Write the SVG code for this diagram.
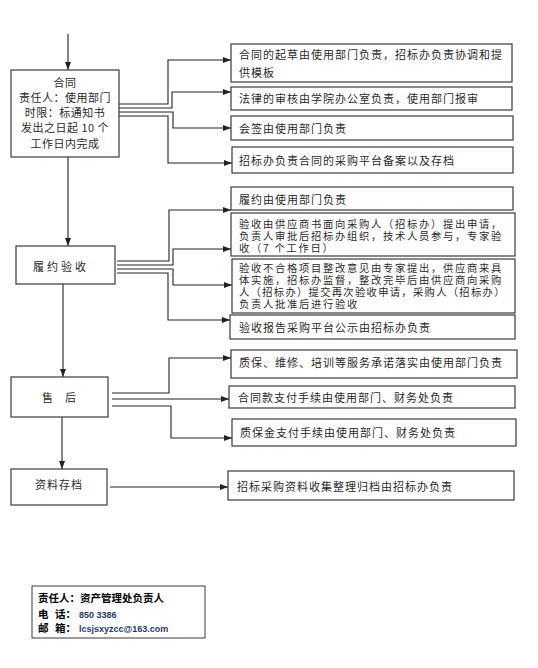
<svg xmlns="http://www.w3.org/2000/svg" width="538" height="668" viewBox="0 0 538 668">
<style>
.bg{fill:#ffffff}
.box{fill:#ffffff;stroke:#3a3a3a;stroke-width:1.2}
.t{font-family:"Noto Sans CJK SC","Noto Sans CJK JP",sans-serif;font-size:11px;fill:#2a2a2a;letter-spacing:1px}
.ts{font-family:"Noto Sans CJK SC","Noto Sans CJK JP",sans-serif;font-size:10.3px;fill:#2a2a2a;letter-spacing:1.7px}
.tl{font-family:"Noto Sans CJK SC","Noto Sans CJK JP",sans-serif;font-size:11px;fill:#2a2a2a;letter-spacing:0.5px}
.c{fill:none;stroke:#222222;stroke-width:1.1}
.f{font-family:"Noto Sans CJK SC","Noto Sans CJK JP",sans-serif;font-size:10.5px;font-weight:bold;fill:#000000}
.fl{font-family:"Liberation Sans",Arial,sans-serif;font-size:9px;font-weight:bold;fill:#1f3a6e}
</style>
<defs>
<marker id="ah" markerUnits="userSpaceOnUse" markerWidth="8" markerHeight="6" refX="8" refY="3" orient="auto">
<path d="M0,0 L8,3 L0,6 z" fill="#222222"/>
</marker>
</defs>
<rect class="bg" x="0" y="0" width="538" height="668"/>

<g id="connectors">
<path class="c" d="M68,34 V70" marker-end="url(#ah)"/>
<path class="c" d="M68,157 V246" marker-end="url(#ah)"/>
<path class="c" d="M63,284 V377" marker-end="url(#ah)"/>
<path class="c" d="M62,417 V469" marker-end="url(#ah)"/>

<path class="c" d="M116,104 H168 V60 H231" marker-end="url(#ah)"/>
<path class="c" d="M116,108 H172 V92 H231" marker-end="url(#ah)"/>
<path class="c" d="M116,112 H173 V128 H231" marker-end="url(#ah)"/>
<path class="c" d="M116,116 H168 V163 H232" marker-end="url(#ah)"/>

<path class="c" d="M117,261 H169 V210 H231" marker-end="url(#ah)"/>
<path class="c" d="M117,265 H173 V249 H231" marker-end="url(#ah)"/>
<path class="c" d="M117,269 H173 V285 H232" marker-end="url(#ah)"/>
<path class="c" d="M117,273 H168 V320 H230" marker-end="url(#ah)"/>

<path class="c" d="M112,393 H169 V358 H231" marker-end="url(#ah)"/>
<path class="c" d="M112,399 H229" marker-end="url(#ah)"/>
<path class="c" d="M112,406 H171 V438 H232" marker-end="url(#ah)"/>

<path class="c" d="M110,487 H228" marker-end="url(#ah)"/>
</g>

<g id="n-hetong">
<rect class="box" x="11" y="70" width="108" height="87"/>
<text class="tl" x="65" y="87" text-anchor="middle">合同</text>
<text class="tl" x="65" y="102" text-anchor="middle">责任人：使用部门</text>
<text class="tl" x="65" y="117" text-anchor="middle">时限：标通知书</text>
<text class="tl" x="65" y="132" text-anchor="middle">发出之日起 10 个</text>
<text class="tl" x="65" y="148" text-anchor="middle">工作日内完成</text>
</g>

<g id="n-lvyue">
<rect class="box" x="16" y="246" width="99" height="38"/>
<text class="t" x="33" y="271" style="letter-spacing:3px">履约验收</text>
</g>

<g id="n-shouhou">
<rect class="box" x="11" y="377" width="97" height="40"/>
<text class="t" x="42" y="402">售</text>
<text class="t" x="65" y="402">后</text>
</g>

<g id="n-ziliao">
<rect class="box" x="11" y="469" width="96" height="36"/>
<text class="t" x="35" y="489">资料存档</text>
</g>

<g id="n-a">
<rect class="box" x="231" y="44" width="281" height="38"/>
<text class="t" x="239" y="59">合同的起草由使用部门负责，招标办负责协调和提</text>
<text class="t" x="239" y="77">供模板</text>
</g>
<g id="n-b">
<rect class="box" x="231" y="87" width="281" height="23"/>
<text class="t" x="239" y="103">法律的审核由学院办公室负责，使用部门报审</text>
</g>
<g id="n-c">
<rect class="box" x="231" y="116" width="282" height="24"/>
<text class="t" x="239" y="133">会签由使用部门负责</text>
</g>
<g id="n-d">
<rect class="box" x="232" y="147" width="281" height="26"/>
<text class="t" x="239" y="165">招标办负责合同的采购平台备案以及存档</text>
</g>

<g id="n-e">
<rect class="box" x="231" y="187" width="282" height="23"/>
<text class="t" x="239" y="204">履约由使用部门负责</text>
</g>
<g id="n-f">
<rect class="box" x="231" y="213" width="284" height="43"/>
<text class="ts" x="239" y="227.5">验收由供应商书面向采购人（招标办）提出申请，</text>
<text class="ts" x="239" y="239.8">负责人审批后招标办组织，技术人员参与，专家验</text>
<text class="ts" x="239" y="252">收（7 个工作日）</text>
</g>
<g id="n-g">
<rect class="box" x="232" y="259" width="283" height="54"/>
<text class="ts" x="239" y="271.5">验收不合格项目整改意见由专家提出，供应商来具</text>
<text class="ts" x="239" y="283.8">体实施，招标办监督，整改完毕后由供应商向采购</text>
<text class="ts" x="239" y="296.1" style="letter-spacing:1.3px">人（招标办）提交再次验收申请，采购人（招标办）</text>
<text class="ts" x="239" y="308.4">负责人批准后进行验收</text>
</g>
<g id="n-h">
<rect class="box" x="230" y="315" width="285" height="24"/>
<text class="t" x="239" y="332">验收报告采购平台公示由招标办负责</text>
</g>

<g id="n-i">
<rect class="box" x="231" y="350" width="286" height="28"/>
<text class="t" x="239" y="367">质保、维修、培训等服务承诺落实由使用部门负责</text>
</g>
<g id="n-j">
<rect class="box" x="229" y="386" width="286" height="22"/>
<text class="t" x="238" y="402">合同款支付手续由使用部门、财务处负责</text>
</g>
<g id="n-k">
<rect class="box" x="232" y="419" width="284" height="27"/>
<text class="t" x="240" y="437">质保金支付手续由使用部门、财务处负责</text>
</g>

<g id="n-l">
<rect class="box" x="228" y="471" width="286" height="29"/>
<text class="t" x="237" y="491">招标采购资料收集整理归档由招标办负责</text>
</g>

<g id="footer">
<rect x="32" y="586" width="173" height="52" fill="#ffffff" stroke="#3a3a3a" stroke-width="1"/>
<text class="f" x="38" y="602">责任人：资产管理处负责人</text>
<text class="f" x="38" y="618">电</text>
<text class="f" x="55" y="618">话：</text>
<text class="fl" x="79" y="618">850 3386</text>
<text class="f" x="38" y="632">邮</text>
<text class="f" x="55" y="632">箱：</text>
<text class="fl" x="79" y="632">lcsjsxyzcc@163.com</text>
</g>
</svg>
